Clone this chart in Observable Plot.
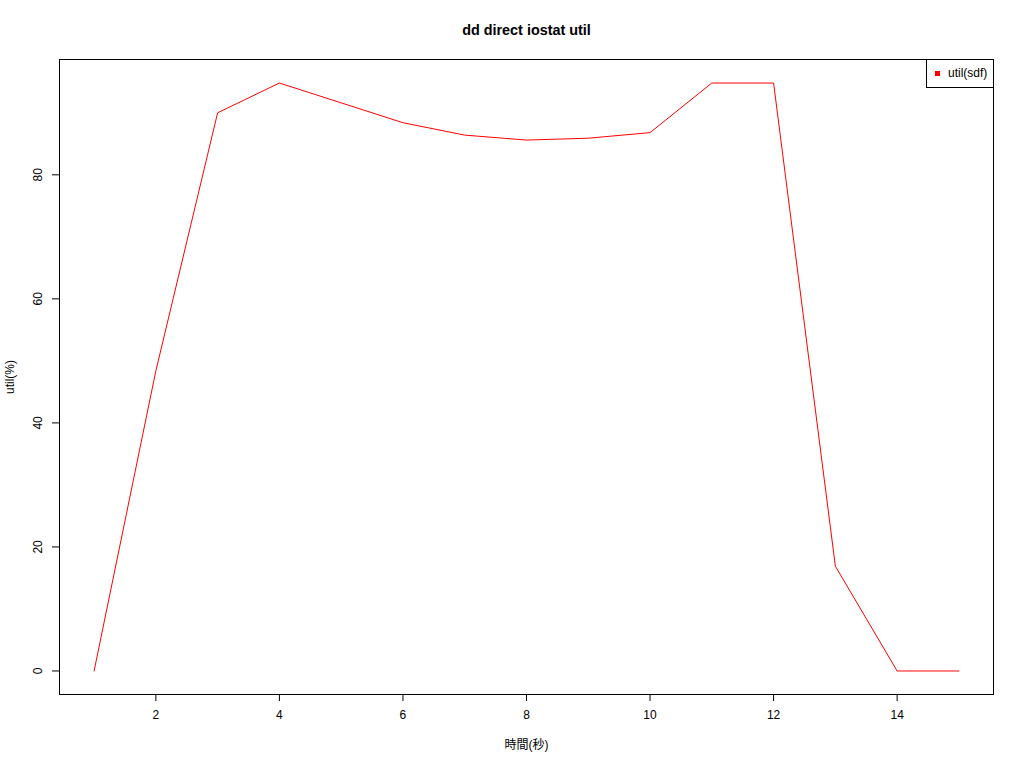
<!DOCTYPE html>
<html>
<head>
<meta charset="utf-8">
<script src="https://cdn.jsdelivr.net/npm/d3@7"></script>
<script src="https://cdn.jsdelivr.net/npm/@observablehq/plot@0.6"></script>
<style>
  body { margin: 0; background: white; }
  #wrap { position: relative; width: 1024px; height: 768px; font-family: "Liberation Sans", "Noto Sans CJK JP", sans-serif; }
  #legend { position: absolute; left: 926px; top: 59px; width: 66px; height: 27px; border: 1px solid #000; box-sizing: content-box; background: white; font-size: 12px; }
  #legend .sw { position: absolute; left: 8px; top: 11px; width: 5px; height: 5px; background: #ff0000; }
  #legend .lb { position: absolute; left: 21px; top: 6px; }
</style>
</head>
<body>
<div id="wrap">
  <div id="chart"></div>
  <div id="legend"><div class="sw"></div><div class="lb">util(sdf)</div></div>
</div>
<script>
const seconds = [1, 2, 3, 4, 5, 6, 7, 8, 9, 10, 11, 12, 13, 14, 15];
const util = [0, 48.4, 90.0, 94.8, 91.6, 88.4, 86.4, 85.6, 85.9, 86.8, 94.8, 94.8, 16.9, 0, 0];
const xTicks = [2, 4, 6, 8, 10, 12, 14];
const yTicks = [0, 20, 40, 60, 80];
const title = "dd direct iostat util";
const xLabel = "時間(秒)";
const yLabel = "util(%)";

const data = seconds.map((s, i) => ({s, u: util[i]}));
const mid = {textAnchor: "middle", lineAnchor: "middle", fill: "#000"};

const chart = Plot.plot({
  width: 1024,
  height: 768,
  marginLeft: 59,
  marginRight: 31,
  marginTop: 59,
  marginBottom: 74,
  style: {fontFamily: '"Liberation Sans", "Noto Sans CJK JP", sans-serif', fontSize: "12px", background: "white", color: "black"},
  x: {domain: [0.44, 15.56], axis: null},
  y: {domain: [-3.792, 98.592], axis: null},
  marks: [
    Plot.frame({stroke: "#000"}),
    Plot.axisX(xTicks, {tickSize: 7, tickFormat: () => "", label: null, stroke: "#000"}),
    Plot.axisY(yTicks, {tickSize: 7, tickFormat: () => "", label: null, stroke: "#000"}),
    Plot.text(xTicks, {x: d => d, frameAnchor: "bottom", dy: 21, text: d => String(d), ...mid}),
    Plot.text(yTicks, {y: d => d, frameAnchor: "left", dx: -21, rotate: -90, text: d => String(d), ...mid}),
    Plot.line(data, {x: "s", y: "u", stroke: "#ff0000", strokeWidth: 1}),
    Plot.text([title], {frameAnchor: "top", dy: -29, text: d => d, fontWeight: "bold", fontSize: 14.4, ...mid}),
    Plot.text([xLabel], {frameAnchor: "bottom", dy: 51, text: d => d, ...mid}),
    Plot.text([yLabel], {frameAnchor: "left", dx: -49, rotate: -90, text: d => d, ...mid})
  ]
});
document.getElementById("chart").appendChild(chart);
</script>
</body>
</html>
